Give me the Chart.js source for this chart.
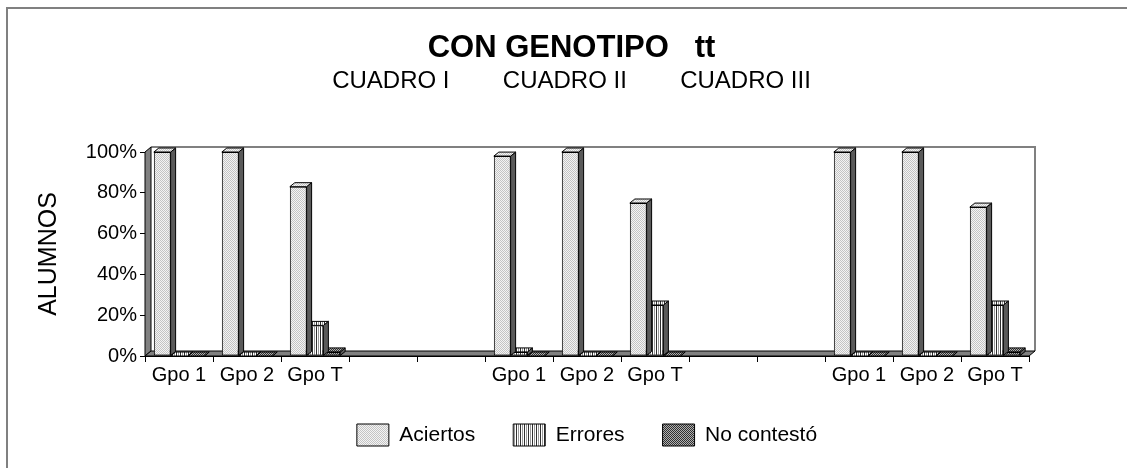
<!DOCTYPE html>
<html>
<head>
<meta charset="utf-8">
<script src="https://cdn.jsdelivr.net/npm/chart.js@4"></script>
<style>
  html, body { margin: 0; padding: 0; background: #fff; }
  #wrap { width: 1127px; height: 468px; position: relative; }
</style>
</head>
<body>
<div id="wrap"><canvas id="c" width="1127" height="468"></canvas></div>
<script>
// Categories: three groups per "cuadro", separated by two empty slots
const categories = ['Gpo 1', 'Gpo 2', 'Gpo T', '', '', 'Gpo 1', 'Gpo 2', 'Gpo T', '', '', 'Gpo 1', 'Gpo 2', 'Gpo T'];

// Percentage of students per answer type
const aciertos   = [100, 100, 83, null, null, 98, 100, 75, null, null, 100, 100, 73];
const errores    = [0,   0,   15, null, null, 2,  0,   25, null, null, 0,   0,   25];
const noContesto = [0,   0,   2,  null, null, 0,  0,   0,  null, null, 0,   0,   2];

const seriesNames = ['Aciertos', 'Errores', 'No contestó'];
const yTicks = [0, 20, 40, 60, 80, 100];

const FONT = '"Liberation Sans", Arial, sans-serif';
Chart.defaults.font.family = FONT;
Chart.defaults.color = '#000';

// Small tiled fills for the bar faces
function makePattern(w, h, paint) {
  const cv = document.createElement('canvas');
  cv.width = w; cv.height = h;
  const g = cv.getContext('2d');
  paint(g);
  return document.getElementById('c').getContext('2d').createPattern(cv, 'repeat');
}
const dotted = makePattern(2, 2, g => {
  g.fillStyle = '#f4f4f4'; g.fillRect(0, 0, 2, 2);
  g.fillStyle = '#c4c4c4'; g.fillRect(0, 0, 1, 1); g.fillRect(1, 1, 1, 1);
});
const striped = makePattern(4, 1, g => {
  g.fillStyle = '#ffffff'; g.fillRect(0, 0, 4, 1);
  g.fillStyle = '#303030'; g.fillRect(0, 0, 1, 1);
  g.fillStyle = '#9a9a9a'; g.fillRect(2, 0, 1, 1);
});
const checkered = makePattern(2, 2, g => {
  g.fillStyle = '#b0b0b0'; g.fillRect(0, 0, 2, 2);
  g.fillStyle = '#303030'; g.fillRect(0, 0, 1, 1); g.fillRect(1, 1, 1, 1);
});
const fills = [dotted, striped, checkered];

const BAR_DX = 5, BAR_DY = 4;     // depth of the bars
const WALL_DX = 6, WALL_DY = 5;   // depth of the walls and floor
const SIDE = '#5a5a5a';
const WALL = '#808080';

function poly(ctx, pts, fill, stroke) {
  ctx.beginPath();
  ctx.moveTo(pts[0][0], pts[0][1]);
  for (let i = 1; i < pts.length; i++) ctx.lineTo(pts[i][0], pts[i][1]);
  ctx.closePath();
  if (fill) { ctx.fillStyle = fill; ctx.fill(); }
  if (stroke) { ctx.strokeStyle = stroke; ctx.lineWidth = 1; ctx.stroke(); }
}

// Outer frame, back wall, left wall and floor
const stage = {
  id: 'stage',
  beforeDraw(chart) {
    const ctx = chart.ctx;
    ctx.save();
    ctx.fillStyle = '#fff';
    ctx.fillRect(0, 0, chart.width, chart.height);
    ctx.strokeStyle = '#808080';
    ctx.lineWidth = 2;
    ctx.beginPath();
    ctx.moveTo(chart.width, 8); ctx.lineTo(7, 8); ctx.lineTo(7, chart.height);
    ctx.stroke();
    ctx.restore();
  },
  beforeDatasetsDraw(chart) {
    const ctx = chart.ctx;
    const x = chart.scales.x, y = chart.scales.y;
    const L = x.left, R = x.right;
    const B = y.getPixelForValue(0), T = y.getPixelForValue(100);
    ctx.save();
    // back wall outline
    ctx.strokeStyle = WALL; ctx.lineWidth = 2;
    ctx.beginPath();
    ctx.moveTo(L + WALL_DX, T - WALL_DY);
    ctx.lineTo(R + WALL_DX, T - WALL_DY);
    ctx.lineTo(R + WALL_DX, B - WALL_DY);
    ctx.stroke();
    // left wall
    poly(ctx, [[L, B], [L, T], [L + WALL_DX, T - WALL_DY], [L + WALL_DX, B - WALL_DY]], WALL, '#000');
    // floor
    poly(ctx, [[L, B], [R, B], [R + WALL_DX, B - WALL_DY], [L + WALL_DX, B - WALL_DY]], WALL, '#000');
    ctx.restore();
  },
  afterDatasetDraw(chart, args) {
    const ctx = chart.ctx;
    const meta = args.meta;
    const fill = fills[args.index];
    ctx.save();
    meta.data.forEach((bar, i) => {
      const v = chart.data.datasets[args.index].data[i];
      if (v === null || v === undefined) return;
      const p = bar.getProps(['x', 'y', 'base', 'width'], true);
      const l = p.x - p.width / 2, r = p.x + p.width / 2;
      const top = Math.min(p.y, p.base), base = Math.max(p.y, p.base);
      // side face
      poly(ctx, [[r, top], [r + BAR_DX, top - BAR_DY], [r + BAR_DX, base - BAR_DY], [r, base]], SIDE, '#000');
      // top face
      poly(ctx, [[l, top], [l + BAR_DX, top - BAR_DY], [r + BAR_DX, top - BAR_DY], [r, top]], fill, '#000');
    });
    ctx.restore();
  }
};

new Chart(document.getElementById('c'), {
  type: 'bar',
  data: {
    labels: categories,
    datasets: [aciertos, errores, noContesto].map((d, k) => ({
      label: seriesNames[k],
      data: d,
      backgroundColor: fills[k],
      borderColor: '#000',
      borderWidth: 1,
      borderSkipped: false,
      categoryPercentage: 0.74,
      barPercentage: 1,
      clip: false
    }))
  },
  options: {
    responsive: false,
    animation: false,
    layout: { padding: { top: 0, left: 16, right: 0, bottom: 12 } },
    plugins: {
      tooltip: { enabled: false },
      title: {
        display: true,
        text: 'CON GENOTIPO   tt',
        font: { size: 31, weight: 'bold' },
        color: '#000',
        padding: { top: 30, bottom: 0 }
      },
      subtitle: {
        display: true,
        text: 'CUADRO I        CUADRO II        CUADRO III',
        font: { size: 24 },
        color: '#000',
        padding: { top: 0, bottom: 56 }
      },
      legend: {
        position: 'bottom',
        fullSize: false,
        labels: {
          boxWidth: 32,
          boxHeight: 22,
          padding: 38,
          font: { size: 21 },
          color: '#000'
        }
      }
    },
    scales: {
      x: {
        grid: { display: true, drawOnChartArea: false, drawTicks: true, tickLength: 6, color: '#000', offset: true },
        border: { display: true, color: '#000', width: 1 },
        ticks: { font: { size: 20 }, color: '#000', maxRotation: 0, autoSkip: false, padding: 1 },
        afterFit(s) { s.height = 30; }
      },
      y: {
        min: 0, max: 100,
        afterBuildTicks(s) { s.ticks = yTicks.map(v => ({ value: v })); },
        grid: { display: true, drawOnChartArea: false, drawTicks: true, tickLength: 5, color: '#000' },
        border: { display: true, color: '#000', width: 1 },
        ticks: { font: { size: 20 }, color: '#000', padding: 3, callback: v => v + '%' },
        title: { display: true, text: 'ALUMNOS', font: { size: 25 }, color: '#000', padding: { top: 18, bottom: 0 } },
        afterFit(s) { s.width = 129; }
      },
      yR: {
        position: 'right',
        display: true,
        grid: { display: false },
        border: { display: false },
        ticks: { display: false },
        afterFit(s) { s.width = 98; }
      }
    }
  },
  plugins: [stage]
});
</script>
</body>
</html>
